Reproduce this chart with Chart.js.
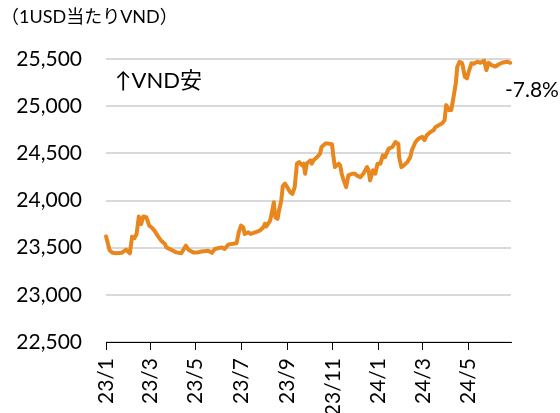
<!DOCTYPE html>
<html>
<head>
<meta charset="utf-8">
<script src="https://cdn.jsdelivr.net/npm/chart.js@4.4.1/dist/chart.umd.min.js"></script>
<style>
    html, body { margin: 0; padding: 0; background: #fff; }
    #wrap { position: relative; width: 560px; height: 413px; }
</style>
</head>
<body>
<div id="wrap"><canvas id="chartVnd" width="560" height="413"></canvas></div>
<script>
// USD/VND
const dates = [
    '2023-01-01', '2023-01-06', '2023-01-10', '2023-01-15', '2023-01-22', '2023-01-28',
    '2023-02-02', '2023-02-05', '2023-02-08', '2023-02-11', '2023-02-14', '2023-02-17',
    '2023-02-20', '2023-02-24', '2023-02-28', '2023-03-03', '2023-03-07', '2023-03-12',
    '2023-03-16', '2023-03-21', '2023-03-23', '2023-03-30', '2023-04-05', '2023-04-12',
    '2023-04-18', '2023-04-22', '2023-04-28', '2023-05-04', '2023-05-09', '2023-05-18',
    '2023-05-23', '2023-05-27', '2023-06-05', '2023-06-09', '2023-06-14', '2023-06-18',
    '2023-06-25', '2023-06-28', '2023-07-01', '2023-07-04', '2023-07-06', '2023-07-11',
    '2023-07-14', '2023-07-20', '2023-07-26', '2023-07-31', '2023-08-02', '2023-08-04',
    '2023-08-09', '2023-08-12', '2023-08-14', '2023-08-16', '2023-08-19', '2023-08-21',
    '2023-08-24', '2023-08-26', '2023-08-29', '2023-09-05', '2023-09-08', '2023-09-11',
    '2023-09-14', '2023-09-17', '2023-09-21', '2023-09-23', '2023-09-25', '2023-09-27',
    '2023-10-02', '2023-10-04', '2023-10-06', '2023-10-11', '2023-10-15', '2023-10-17',
    '2023-10-22', '2023-10-26', '2023-10-31', '2023-11-02', '2023-11-04', '2023-11-09',
    '2023-11-11', '2023-11-13', '2023-11-15', '2023-11-19', '2023-11-22', '2023-11-27',
    '2023-12-01', '2023-12-03', '2023-12-08', '2023-12-12', '2023-12-17', '2023-12-19',
    '2023-12-21', '2023-12-25', '2023-12-28', '2023-12-31', '2024-01-04', '2024-01-07',
    '2024-01-10', '2024-01-15', '2024-01-20', '2024-01-24', '2024-01-28', '2024-01-29',
    '2024-02-01', '2024-02-04', '2024-02-09', '2024-02-13', '2024-02-15', '2024-02-20',
    '2024-02-24', '2024-02-29', '2024-03-03', '2024-03-06', '2024-03-11', '2024-03-15',
    '2024-03-18', '2024-03-22', '2024-03-27', '2024-03-30', '2024-04-01', '2024-04-05',
    '2024-04-08', '2024-04-11', '2024-04-14', '2024-04-16', '2024-04-19', '2024-04-22',
    '2024-04-23', '2024-04-26', '2024-04-29', '2024-05-02', '2024-05-05', '2024-05-08',
    '2024-05-13', '2024-05-17', '2024-05-22', '2024-05-25', '2024-05-28', '2024-06-01',
    '2024-06-06', '2024-06-11', '2024-06-15', '2024-06-22', '2024-06-26'
];
const rates = [
    23620, 23470, 23445, 23440, 23445, 23480,
    23440, 23617, 23600, 23645, 23830, 23750,
    23830, 23822, 23734, 23716, 23680, 23617,
    23574, 23539, 23503, 23475, 23450, 23440,
    23521, 23475, 23450, 23450, 23460, 23468,
    23445, 23486, 23503, 23486, 23532, 23540,
    23546, 23663, 23734, 23716, 23645, 23663,
    23645, 23663, 23680, 23716, 23752, 23725,
    23787, 23894, 23982, 23822, 23805, 23894,
    24000, 24150, 24180, 24088, 24070, 24141,
    24390, 24407, 24372, 24390, 24284, 24390,
    24425, 24390, 24425, 24460, 24496, 24567,
    24603, 24603, 24596, 24460, 24354, 24390,
    24372, 24284, 24230, 24141, 24266, 24284,
    24284, 24266, 24248, 24284, 24354, 24320,
    24212, 24320, 24284, 24390, 24390, 24478,
    24460, 24550, 24567, 24620, 24600, 24460,
    24354, 24370, 24407, 24460, 24532, 24620,
    24656, 24674, 24640, 24691, 24727, 24744,
    24780, 24798, 24820, 24851, 25011, 24957,
    24960, 25099, 25241, 25418, 25471, 25460,
    25440, 25312, 25295, 25383, 25454, 25450,
    25471, 25460, 25482, 25383, 25460, 25436,
    25420, 25445, 25460, 25471, 25460
];
const tickDates = ['2023-01-01', '2023-03-01', '2023-05-01', '2023-07-01', '2023-09-01',
                   '2023-11-01', '2024-01-01', '2024-03-01', '2024-05-01'];
const tickLabels = ['23/1', '23/3', '23/5', '23/7', '23/9', '23/11', '24/1', '24/3', '24/5'];
const yTicks = [22500, 23000, 23500, 24000, 24500, 25000, 25500];
const endDate = '2024-06-27';

function dayOf(s) {
    const [y, m, d] = s.split('-').map(Number);
    return (Date.UTC(y, m - 1, d) - Date.UTC(2023, 0, 1)) / 86400000;
}

const FONT = '"Lato", "Noto Sans CJK JP", sans-serif';

const notes = {
    id: 'notes',
    afterDraw(chart) {
        const ctx = chart.ctx;
        ctx.save();
        ctx.fillStyle = '#000';
        ctx.textBaseline = 'middle';
        ctx.textAlign = 'left';
        ctx.font = '18px ' + FONT;
        ctx.fillText('（1USD当たりVND）', 1, 17);
        ctx.font = '22px ' + FONT;
        ctx.fillText('↑VND安', 115, 81);
        ctx.font = '21px ' + FONT;
        ctx.fillText('-7.8%', 505, 90);
        ctx.restore();
    }
};

new Chart(document.getElementById('chartVnd'), {
    type: 'line',
    data: {
        datasets: [{
            data: dates.map((d, i) => ({ x: dayOf(d), y: rates[i] })),
            borderColor: '#E8871E',
            borderWidth: 4,
            pointRadius: 0,
            tension: 0,
            borderJoinStyle: 'round',
            borderCapStyle: 'round',
            clip: false
        }]
    },
    options: {
        responsive: false,
        animation: false,
        devicePixelRatio: 1,
        layout: { padding: { left: 0, right: 49, top: 59, bottom: 0 } },
        plugins: {
            legend: { display: false },
            tooltip: { enabled: false }
        },
        scales: {
            x: {
                type: 'linear',
                min: 0,
                max: dayOf(endDate),
                afterBuildTicks: (scale) => {
                    scale.ticks = tickDates.map(d => ({ value: dayOf(d) }));
                },
                afterFit: (scale) => { scale.height = 71; },
                grid: {
                    drawOnChartArea: false,
                    drawTicks: true,
                    tickLength: 8,
                    color: '#000'
                },
                border: { color: '#000', width: 1 },
                ticks: {
                    autoSkip: false,
                    minRotation: 90,
                    maxRotation: 90,
                    padding: 8,
                    color: '#000',
                    font: { family: FONT, size: 21 },
                    callback: (v, i) => tickLabels[i]
                }
            },
            y: {
                min: 22500,
                max: 25500,
                afterBuildTicks: (scale) => {
                    scale.ticks = yTicks.map(v => ({ value: v }));
                },
                afterFit: (scale) => { scale.width = 106; },
                grid: {
                    color: '#D9D9D9',
                    lineWidth: 2,
                    drawTicks: false
                },
                border: { display: false },
                ticks: {
                    padding: 24,
                    color: '#000',
                    font: { family: FONT, size: 21 },
                    callback: (v) => v.toLocaleString('en-US')
                }
            }
        }
    },
    plugins: [notes]
});
</script>
</body>
</html>
